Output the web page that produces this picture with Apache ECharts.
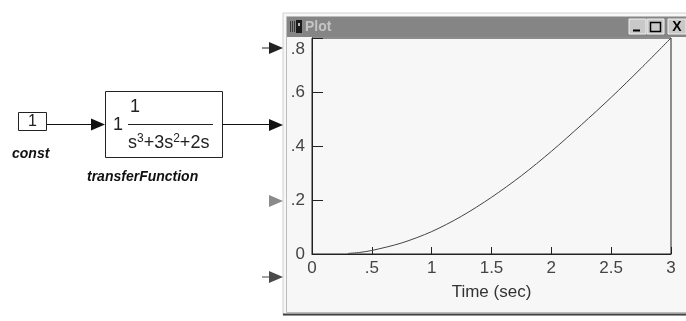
<!DOCTYPE html>
<html><head><meta charset="utf-8">
<script src="https://cdn.jsdelivr.net/npm/echarts@6/dist/echarts.min.js"></script>
<style>html,body{margin:0;padding:0;background:#fff}#c{width:686px;height:321px}</style>
</head><body><div id="c"></div>
<script>
// data
const timeSec = [0.3, 0.4, 0.5, 0.75, 1.0, 1.25, 1.5, 1.75, 2.0, 2.25, 2.5, 2.75, 3.0];
const output  = [0.002, 0.006, 0.013, 0.041, 0.083, 0.14, 0.21, 0.29, 0.38, 0.478, 0.58, 0.688, 0.80];
const xTickLabels = ['0', '.5', '1', '1.5', '2', '2.5', '3'];
const yTickLabels = ['0', '.2', '.4', '.6', '.8'];
const xName = 'Time (sec)';
const windowTitle = 'Plot';
const constLabel = 'const';
const tfLabel = 'transferFunction';

const chart = echarts.init(document.getElementById('c'), null, {renderer: 'canvas'});
const FONT = '"Liberation Sans", Arial, sans-serif';
const pts = timeSec.map((t, i) => [t, output[i]]);

const tri = (tipX, y, color) => ({
  type: 'polygon', silent: true,
  shape: {points: [[tipX - 14, y - 6], [tipX, y], [tipX - 14, y + 6]]},
  style: {fill: color}
});

const graphics = [
  // window frame
  {type: 'rect', shape: {x: 283, y: 13, width: 410, height: 302}, style: {fill: '#f7f7f7', stroke: '#d0d0d0', lineWidth: 1}, z: -10},
  {type: 'rect', shape: {x: 286.5, y: 16.5, width: 410, height: 296}, style: {fill: 'none', stroke: '#bdbdbd', lineWidth: 1}, z: -9},
  {type: 'line', shape: {x1: 283, y1: 314.5, x2: 686, y2: 314.5}, style: {stroke: '#444', lineWidth: 2}, z: -8},
  // title bar
  {type: 'rect', shape: {x: 287, y: 17, width: 399, height: 20}, style: {fill: '#858585'}, z: -8},
  {type: 'rect', shape: {x: 290, y: 21, width: 1, height: 11}, style: {fill: '#3a3a3a'}, z: -7},
  {type: 'rect', shape: {x: 292, y: 21, width: 1, height: 11}, style: {fill: '#3a3a3a'}, z: -7},
  {type: 'rect', shape: {x: 294, y: 21, width: 1, height: 11}, style: {fill: '#3a3a3a'}, z: -7},
  {type: 'rect', shape: {x: 296, y: 20, width: 6, height: 13}, style: {fill: '#1a1a1a'}, z: -7},
  {type: 'rect', shape: {x: 298, y: 23, width: 2, height: 3}, style: {fill: '#bbb'}, z: -6},
  {type: 'text', style: {x: 305, y: 27, text: windowTitle, font: 'bold 14px ' + FONT, fill: '#c4c4c4', verticalAlign: 'middle'}, z: -7},
  // buttons
  {type: 'rect', shape: {x: 629, y: 19, width: 17, height: 15}, style: {fill: '#c8c8c8', stroke: '#efefef', lineWidth: 1}, z: -7},
  {type: 'line', shape: {x1: 633, y1: 30.5, x2: 640, y2: 30.5}, style: {stroke: '#000', lineWidth: 2}, z: -6},
  {type: 'rect', shape: {x: 647, y: 19, width: 17, height: 15}, style: {fill: '#c8c8c8', stroke: '#efefef', lineWidth: 1}, z: -7},
  {type: 'rect', shape: {x: 650.5, y: 22.5, width: 10, height: 9}, style: {fill: 'none', stroke: '#000', lineWidth: 1.5}, z: -6},
  {type: 'rect', shape: {x: 668, y: 19, width: 18, height: 15}, style: {fill: '#c8c8c8', stroke: '#efefef', lineWidth: 1}, z: -7},
  {type: 'text', style: {x: 677, y: 27, text: 'X', font: 'bold 14px ' + FONT, fill: '#000', align: 'center', verticalAlign: 'middle'}, z: -6},
  // port arrows
  {type: 'line', shape: {x1: 262, y1: 48, x2: 269, y2: 48}, style: {stroke: '#222', lineWidth: 1}},
  tri(283, 48, '#222'),
  tri(283, 125, '#111'),
  tri(283, 201, '#8a8a8a'),
  {type: 'line', shape: {x1: 262, y1: 277, x2: 269, y2: 277}, style: {stroke: '#444', lineWidth: 1}},
  tri(283, 277, '#4a4a4a'),
  // const block
  {type: 'rect', shape: {x: 18.5, y: 112.5, width: 28, height: 18}, style: {fill: '#fff', stroke: '#222', lineWidth: 1}},
  {type: 'text', style: {x: 32.5, y: 122, text: '1', font: '16px ' + FONT, fill: '#222', align: 'center', verticalAlign: 'middle'}},
  {type: 'text', style: {x: 12, y: 154, text: constLabel, font: 'italic bold 14px ' + FONT, fill: '#111', verticalAlign: 'middle'}},
  // connection const -> tf
  {type: 'line', shape: {x1: 47, y1: 124.5, x2: 92, y2: 124.5}, style: {stroke: '#111', lineWidth: 1}},
  tri(105, 124.5, '#111'),
  // transfer function block
  {type: 'rect', shape: {x: 105.5, y: 91.5, width: 117, height: 66}, style: {fill: '#fff', stroke: '#222', lineWidth: 1}},
  {type: 'text', style: {x: 118, y: 125, text: '1', font: '18px ' + FONT, fill: '#222', align: 'center', verticalAlign: 'middle'}},
  {type: 'text', style: {x: 135, y: 107, text: '1', font: '18px ' + FONT, fill: '#222', align: 'center', verticalAlign: 'middle'}},
  {type: 'line', shape: {x1: 128, y1: 124.5, x2: 213, y2: 124.5}, style: {stroke: '#222', lineWidth: 1}},
  {type: 'text', style: {x: 128, y: 143, text: 's{sup|3}+3s{sup|2}+2s', font: '18px ' + FONT, fill: '#222', verticalAlign: 'middle',
     rich: {sup: {fontSize: 12, fill: '#222', fontFamily: FONT, padding: [0, 0, 9, 0]}}}},
  {type: 'text', style: {x: 87, y: 177, text: tfLabel, font: 'italic bold 14px ' + FONT, fill: '#111', verticalAlign: 'middle'}},
  // connection tf -> port
  {type: 'line', shape: {x1: 222, y1: 124.5, x2: 270, y2: 124.5}, style: {stroke: '#111', lineWidth: 1}}
];

chart.setOption({
  backgroundColor: '#fff',
  animation: false,
  grid: {left: 312, top: 38, width: 359, height: 216, show: true, borderColor: '#222', borderWidth: 1, backgroundColor: 'transparent'},
  xAxis: {
    type: 'value', min: 0, max: 3, interval: 0.5,
    name: xName, nameLocation: 'middle', nameGap: 30,
    nameTextStyle: {fontFamily: FONT, fontSize: 17, color: '#333'},
    axisLine: {show: true, lineStyle: {color: '#222', width: 1}},
    axisTick: {show: true, inside: true, length: 7, lineStyle: {color: '#222'}},
    axisLabel: {margin: 6, fontFamily: FONT, fontSize: 17, color: '#444',
      formatter: v => xTickLabels[Math.round(v / 0.5)]},
    splitLine: {show: false}
  },
  yAxis: {
    type: 'value', min: 0, max: 0.8, interval: 0.2,
    axisLine: {show: true, lineStyle: {color: '#222', width: 1}},
    axisTick: {show: true, inside: true, length: 11, lineStyle: {color: '#222'}},
    axisLabel: {margin: 7, fontFamily: FONT, fontSize: 17, color: '#444',
      formatter: v => { const i = Math.round(v / 0.2); return i === 4 ? '{top|' + yTickLabels[i] + '}' : yTickLabels[i]; },
      rich: {top: {fontFamily: FONT, fontSize: 17, color: '#444', padding: [22, 0, 0, 0]}}},
    splitLine: {show: false}
  },
  series: [{
    type: 'line', data: pts, showSymbol: false, smooth: 0.3,
    lineStyle: {color: '#444', width: 1}
  }],
  graphic: {elements: graphics}
});
</script></body></html>
